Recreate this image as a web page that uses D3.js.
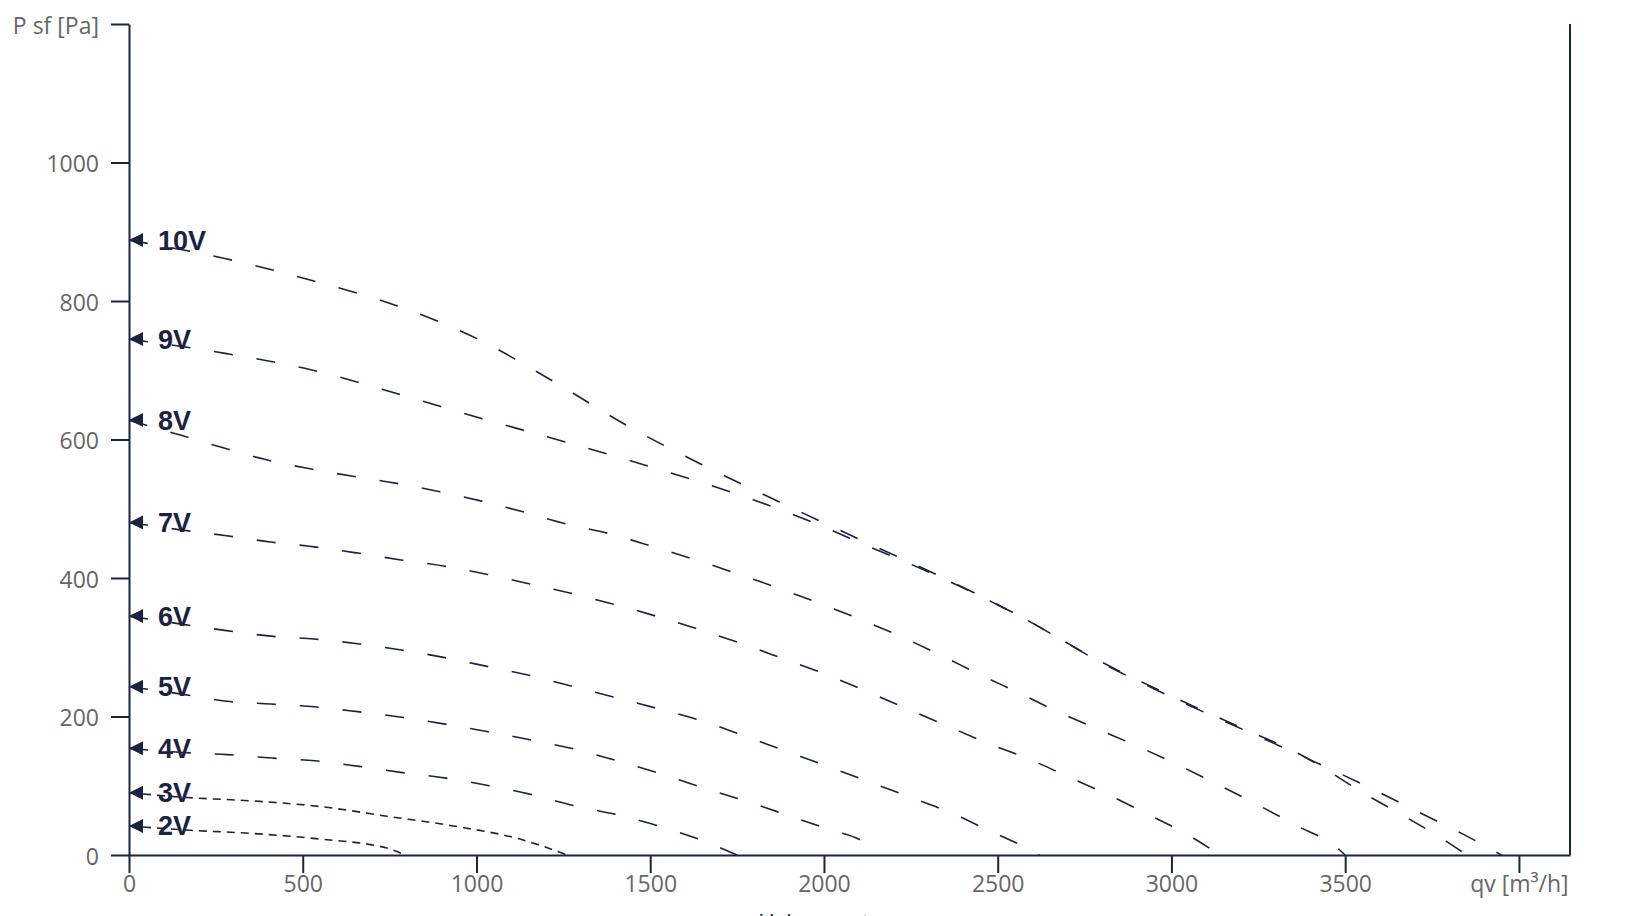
<!DOCTYPE html>
<html>
<head>
<meta charset="utf-8">
<script src="https://cdn.jsdelivr.net/npm/d3@7"></script>
<style>
  html, body { margin: 0; padding: 0; background: #fff; }
  svg { display: block; }
</style>
</head>
<body>
<svg id="chart" width="1626" height="916"></svg>
<script>
// ---- Data (flow m³/h, static pressure Pa) ----
const voltages = ["10V", "9V", "8V", "7V", "6V", "5V", "4V", "3V", "2V"];
const curve10V = [[0,888],[279,861],[524,830],[766,794],[1000,746],[1221,684],[1437,619],[1664,560],[1892,505],[2123,451],[2353,398],[2578,341],[2794,279],[3017,224],[3247,172],[3362,146],[3600,90],[3715,61],[3828,33],[3950,0]];
const curve9V  = [[0,745],[281,724],[529,700],[773,666],[1017,630],[1259,596],[1504,560],[1745,522],[1984,477],[2103,451],[2340,400],[2570,343],[2790,281],[3015,226],[3245,174],[3360,148],[3571,84],[3681,53],[3790,20],[3850,0]];
const curve8V  = [[0,628],[150,606],[271,588],[393,571],[518,558],[643,547],[767,537],[891,525],[1015,511],[1138,495],[1259,478],[1383,464],[1504,446],[1626,427],[1746,407],[1866,386],[1984,364],[2101,341],[2219,316],[2334,289],[2447,261],[2561,234],[2677,206],[2792,181],[2907,156],[3023,129],[3137,101],[3250,72],[3362,42],[3473,12],[3500,0]];
const curve7V  = [[0,480],[156,469],[281,461],[407,452],[533,445],[658,436],[783,426],[909,417],[1032,405],[1157,391],[1279,377],[1403,361],[1523,344],[1645,325],[1765,305],[1885,283],[2004,261],[2120,237],[2236,212],[2352,187],[2468,162],[2588,139],[2703,113],[2818,87],[2931,59],[3044,30],[3140,0]];
const curve6V  = [[0,345],[156,333],[281,324],[408,316],[532,312],[658,305],[784,296],[909,285],[1034,272],[1156,259],[1279,243],[1403,227],[1525,211],[1646,194],[1766,173],[1885,151],[2005,129],[2123,107],[2240,85],[2360,62],[2476,35],[2591,8],[2620,0]];
const curve5V  = [[0,243],[156,232],[281,222],[408,218],[533,214],[658,207],[784,199],[910,189],[1034,178],[1159,166],[1281,153],[1405,136],[1526,118],[1646,98],[1768,79],[1886,59],[2007,38],[2125,15],[2155,0]];
const curve4V  = [[0,154],[156,148],[283,145],[411,140],[535,136],[662,128],[787,119],[912,111],[1037,100],[1161,87],[1283,71],[1406,58],[1530,41],[1650,21],[1750,0]];
const curve3V  = [[0,90],[166,83],[358,78],[550,70],[742,56],[933,42],[1125,23],[1262,0]];
const curve2V  = [[0,42],[166,36],[358,31],[550,23],[742,10],[795,0]];
const curves = [curve10V, curve9V, curve8V, curve7V, curve6V, curve5V, curve4V, curve3V, curve2V];
const shortDash = ["3V", "2V"];

const xTicks = [0, 500, 1000, 1500, 2000, 2500, 3000, 3500, 4000];
const xTickLabels = ["0", "500", "1000", "1500", "2000", "2500", "3000", "3500", "qv [m³/h]"];
const yTicks = [0, 200, 400, 600, 800, 1000, 1200];
const yTickLabels = ["0", "200", "400", "600", "800", "1000", "P sf [Pa]"];
const xTitle = "Volumenstrom";

// ---- Layout ----
const navy = "#1a2340";
const grey = "#666666";
const svg = d3.select("#chart");
const x = d3.scaleLinear().domain([0, 4147]).range([129, 1570]);
const y = d3.scaleLinear().domain([0, 1200]).range([855, 24]);

// axes
const xAxis = d3.axisBottom(x).tickValues(xTicks)
  .tickFormat((d, i) => xTickLabels[i]).tickSizeInner(18).tickSizeOuter(0).tickPadding(3);
const yAxis = d3.axisLeft(y).tickValues(yTicks)
  .tickFormat((d, i) => yTickLabels[i]).tickSizeInner(18).tickSizeOuter(0).tickPadding(12);

const gx = svg.append("g").attr("transform", `translate(0,${y(0)})`).call(xAxis);
const gy = svg.append("g").attr("transform", `translate(${x(0)},0)`).call(yAxis);
[gx, gy].forEach(g => {
  g.selectAll("path.domain").attr("stroke", navy).attr("stroke-width", 2);
  g.selectAll(".tick line").attr("stroke", navy).attr("stroke-width", 2);
  g.selectAll(".tick text").attr("fill", grey)
    .style("font-family", "'Open Sans', sans-serif").style("font-size", "23px");
});
gy.selectAll(".tick text").attr("dy", "0.4em");

// right border
svg.append("line")
  .attr("x1", x.range()[1]).attr("x2", x.range()[1])
  .attr("y1", y(1200)).attr("y2", y(0))
  .attr("stroke", navy).attr("stroke-width", 2);

// x title (mostly cut off at bottom, as in the original)
svg.append("text")
  .attr("x", 760).attr("y", 930)
  .attr("fill", navy)
  .style("font-family", "'Open Sans', sans-serif").style("font-size", "22px")
  .text(xTitle);

// curves
const line = d3.line().x(d => x(d[0])).y(d => y(d[1])).curve(d3.curveMonotoneX);
const g = svg.append("g");
curves.forEach((data, i) => {
  const v = voltages[i];
  g.append("path")
    .datum(data)
    .attr("d", line)
    .attr("fill", "none")
    .attr("stroke", navy)
    .attr("stroke-width", 1.6)
    .attr("stroke-dasharray", shortDash.includes(v) ? "8,6" : "19,24");
  const x0 = x(data[0][0]), y0 = y(data[0][1]);
  g.append("path")
    .attr("d", `M${x0},${y0} L${x0 + 14},${y0 - 7} L${x0 + 14},${y0 + 7} Z`)
    .attr("fill", navy);
  g.append("text")
    .attr("x", x0 + 29).attr("y", y0).attr("dy", "0.35em")
    .attr("fill", navy)
    .style("font-family", "'Liberation Sans', Arial, sans-serif")
    .style("font-weight", "bold").style("font-size", "27px")
    .text(v);
});
</script>
</body>
</html>
